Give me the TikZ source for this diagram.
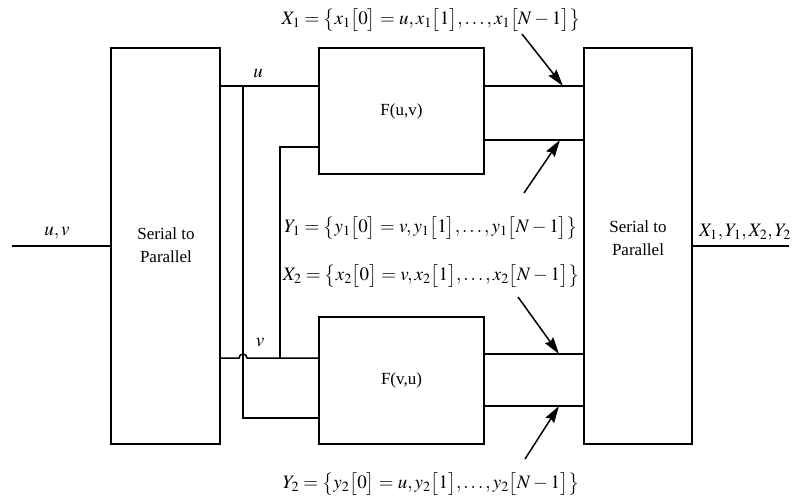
\documentclass[tikz,border=0pt]{standalone}
\usepackage{mathptmx}
\usepackage[no-math]{fontspec}
\setmainfont{Liberation Serif}
\usetikzlibrary{arrows.meta}
\newcommand\seqlab[3]{$#1 = \bigl\{#2\bigl[0\bigr] = #3, #2\bigl[1\bigr], \ldots, #2\bigl[N-1\bigr]\bigr\}$}
\tikzset{
  blk/.style={draw, line width=1.5pt, inner sep=0pt, font=\fontsize{17}{23}\selectfont, align=center},
  blktext/.style={inner sep=0pt, font=\fontsize{17}{23}\selectfont, align=center},
  wire/.style={line width=1.5pt},
  pointer/.style={line width=1.5pt, -{Stealth[length=17pt,width=10pt,inset=2pt]}},
  lab/.style={inner sep=0pt, font=\fontsize{19}{23}\selectfont},
}
\begin{document}
\begin{tikzpicture}[x=1pt,y=-1pt]
\useasboundingbox (0,0) rectangle (804,500);
% blocks
\node[blk, minimum width=109pt, minimum height=396pt] (L) at (165.5,246) {};
\node[blktext] (Lt) at (166,245) {Serial to\\Parallel};
\node[blk, minimum width=108pt, minimum height=396pt] (R) at (638,246) {};
\node[blktext] (Rt) at (638,238) {Serial to\\Parallel};
\node[blk, minimum width=165pt, minimum height=126pt] (F1) at (401.5,111) {F(u,v)};
\node[blk, minimum width=165pt, minimum height=127pt] (F2) at (401.5,380.5) {F(v,u)};
% labels
\node[lab] (uvlab) at (57,233) {$u,v$};
\node[lab] (outlab) at (745,232) {$X_1,Y_1,X_2,Y_2$};
\node[lab] (ulab) at (258,73) {$u$};
\node[lab] (vlab) at (260,343) {$v$};
\node[lab] (X1lab) at (431,20) {\seqlab{X_1}{x_1}{u}};
\node[lab] (Y1lab) at (431,228) {\seqlab{Y_1}{y_1}{v}};
\node[lab] (X2lab) at (431,276) {\seqlab{X_2}{x_2}{v}};
\node[lab] (Y2lab) at (431,484) {\seqlab{Y_2}{y_2}{u}};
% coordinates
\coordinate (in) at (12,246);
\coordinate (out) at (789,246);
\coordinate (ua) at (243,86);
\coordinate (ub) at (243,418);
\coordinate (va) at (280,358);
\coordinate (vb) at (280,147);
\coordinate (o1) at (484,86);
\coordinate (o2) at (484,140);
\coordinate (o3) at (484,354);
\coordinate (o4) at (484,406);
\coordinate (a1s) at (522,34);
\coordinate (a1t) at (563,86);
\coordinate (a2s) at (524,193);
\coordinate (a2t) at (560,140);
\coordinate (a3s) at (518,297);
\coordinate (a3t) at (559,354);
\coordinate (a4s) at (525,459);
\coordinate (a4t) at (559,406);
% wires
\draw[wire] (in) -- (L.west |- in);
\draw[wire] (R.east |- out) -- (out);
\draw[wire] (L.east |- ua) -- (F1.west |- ua);
\draw[wire] (ua) -- (ub) -- (F2.west |- ub);
\draw[wire] (L.east |- va) -- ([xshift=-4pt]ub |- va) arc[start angle=180, end angle=0, radius=4pt] -- (F2.west |- va);
\draw[wire] (va) -- (vb) -- (F1.west |- vb);
\draw[wire] (o1) -- (R.west |- o1);
\draw[wire] (o2) -- (R.west |- o2);
\draw[wire] (o3) -- (R.west |- o3);
\draw[wire] (o4) -- (R.west |- o4);
% pointers
\draw[pointer] (a1s) -- (a1t);
\draw[pointer] (a2s) -- (a2t);
\draw[pointer] (a3s) -- (a3t);
\draw[pointer] (a4s) -- (a4t);
\end{tikzpicture}
\end{document}
